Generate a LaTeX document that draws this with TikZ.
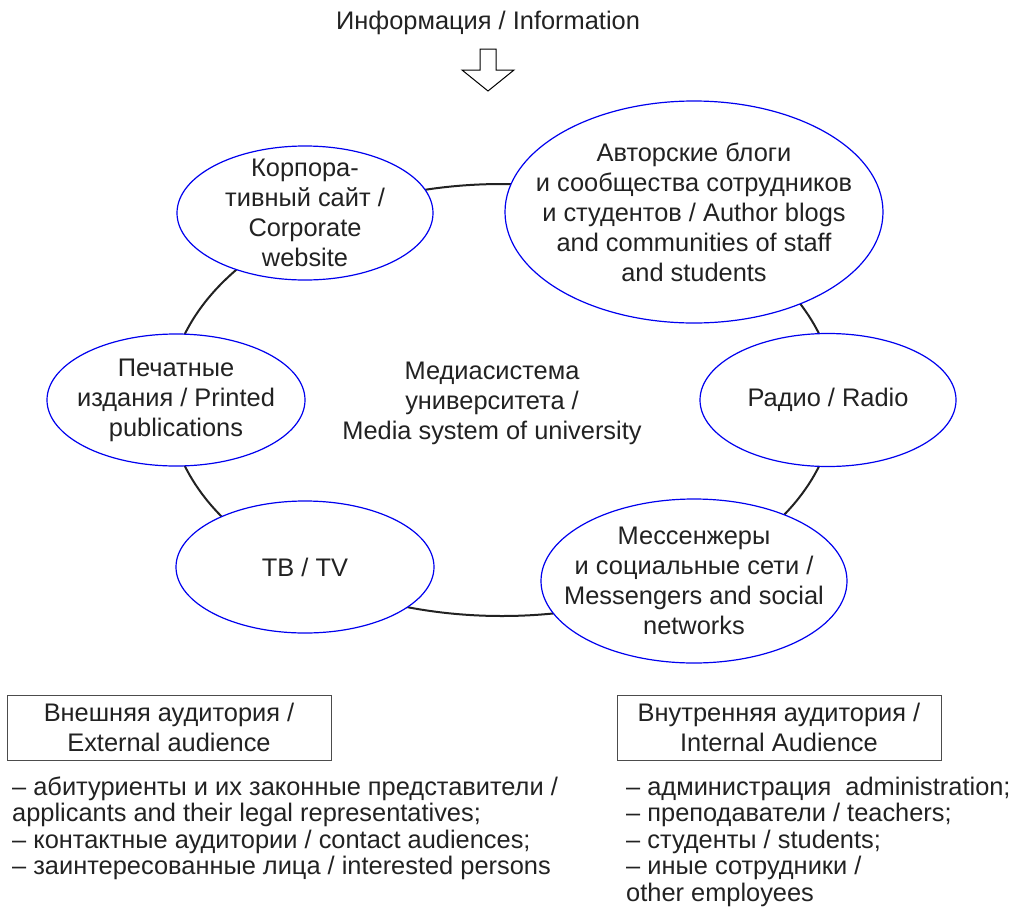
\documentclass[tikz,border=0pt]{standalone}
\usepackage{fontspec}
\setmainfont{Liberation Sans}
\usetikzlibrary{shapes.geometric}

\definecolor{inkgray}{HTML}{222222}
\definecolor{rimblue}{HTML}{0000EE}
\def\listsep{26.5}

\begin{document}
\begin{tikzpicture}[x=1pt, y=-1pt, text=inkgray, font=\fontsize{25.4}{30}\selectfont]
    \tikzstyle{channel}=[draw=rimblue, line width=1.2pt, ellipse, fill=white, inner sep=0pt]
    \tikzstyle{system}=[draw=inkgray, line width=2pt, ellipse, inner sep=0pt]
    \tikzstyle{audience}=[draw=black!70, line width=1pt, rectangle, minimum width=324pt, minimum height=65pt, align=center]
    \tikzstyle{member}=[anchor=base west, inner sep=0pt]
    \tikzstyle{every label}=[align=center]

    \useasboundingbox (0,0) rectangle (1026,919);

    % information flow
    \node[anchor=base] (info) at (488,29) {Информация / Information};
    \coordinate (arrowtop) at (488,49);
    \draw[line width=1pt, fill=white] (arrowtop) ++(-8,0) -- ++(16,0) -- ++(0,21) -- ++(18,0)
        -- ++(-26,21) -- ++(-26,-21) -- ++(18,0) -- cycle;

    % the media system ring
    \node[system, minimum width=666pt, minimum height=432pt,
        label={[xshift=-10pt, yshift=-3pt]center:{Медиасистема\\университета /\\Media system of university}}] (sys) at (502,400) {};

    % channels on the ring
    \node[channel, minimum width=256pt, minimum height=134pt,
        label={center:{Корпора-\\тивный сайт /\\Corporate\\website}}] (corp) at (305,213) {};
    \node[channel, minimum width=378pt, minimum height=222pt,
        label={center:{Авторские блоги\\и сообщества сотрудников\\и студентов / Author blogs\\and communities of staff\\and students}}] (blogs) at (694,212) {};
    \node[channel, minimum width=258pt, minimum height=132pt,
        label={center:{Печатные\\издания / Printed\\publications}}] (print) at (176,400) {};
    \node[channel, minimum width=256pt, minimum height=133pt,
        label={center:{Радио / Radio}}] (radio) at (828,400) {};
    \node[channel, minimum width=258pt, minimum height=132pt,
        label={center:{ТВ / TV}}] (tv) at (305,567) {};
    \node[channel, minimum width=306pt, minimum height=164pt,
        label={center:{Мессенжеры\\и социальные сети /\\Messengers and social\\networks}}] (msg) at (694,581) {};

    % audiences
    \node[audience] (ext) at (169,727.5) {Внешняя аудитория /\\External audience};
    \node[audience] (int) at (779,727.5) {Внутренняя аудитория /\\Internal Audience};

    \foreach \entry [count=\i] in {{– абитуриенты и их законные представители /},
            {applicants and their legal representatives;},
            {– контактные аудитории / contact audiences;},
            {– заинтересованные лица / interested persons}}
        \node[member] (ext-\i) at (12,795+\listsep*\i-\listsep) {\entry};

    \foreach \entry [count=\i] in {{– администрация\ \ administration;},
            {– преподаватели / teachers;},
            {– студенты / students;},
            {– иные сотрудники /},
            {other employees}}
        \node[member] (int-\i) at (626,795+\listsep*\i-\listsep) {\entry};
\end{tikzpicture}
\end{document}
